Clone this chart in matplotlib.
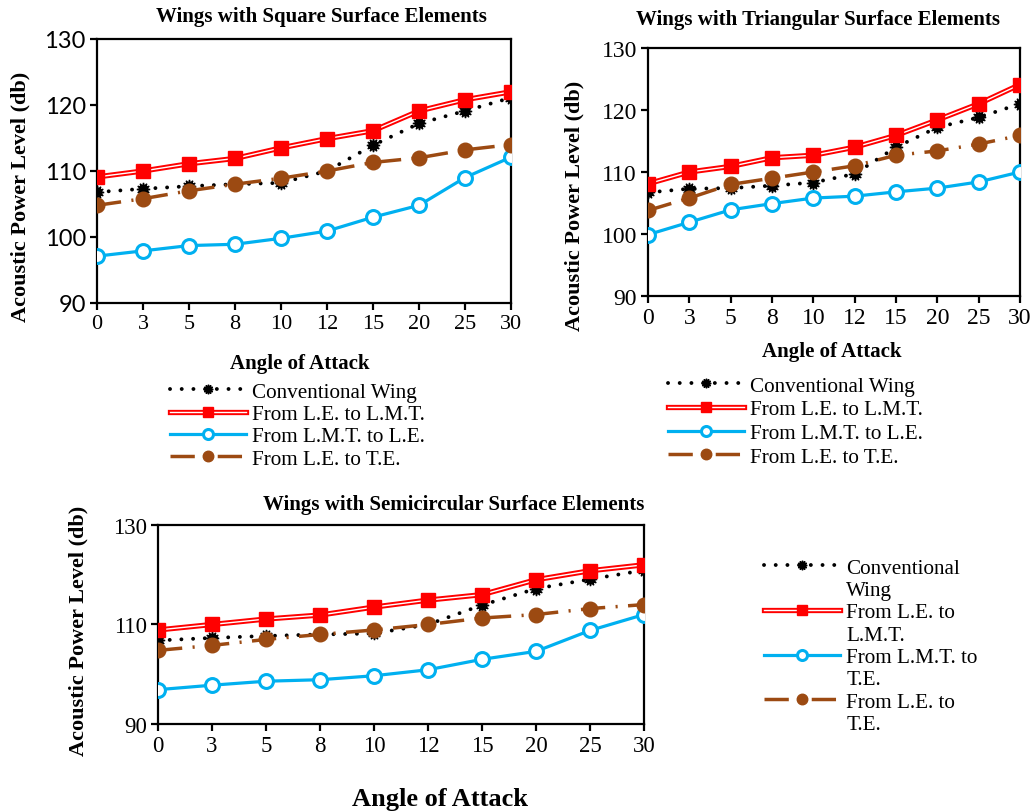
import matplotlib
matplotlib.use("Agg")
import matplotlib.pyplot as plt
import matplotlib.patheffects as pe
from matplotlib.lines import Line2D
from matplotlib.legend_handler import HandlerTuple

plt.rcParams['font.family'] = ['Liberation Serif', 'DejaVu Serif']

# angle of attack categories (evenly spaced like a category axis)
angles = ['0', '3', '5', '8', '10', '12', '15', '20', '25', '30']

# square surface elements
sq_conv = [106.8, 107.3, 107.7, 108.0, 108.2, 110.0, 113.9, 117.2, 119.1, 121.1]
sq_le_lmt = [109.1, 110.0, 111.1, 111.9, 113.5, 114.9, 116.1, 119.1, 120.8, 122.0]
sq_lmt_le = [97.1, 97.9, 98.7, 98.9, 99.8, 100.9, 103.0, 104.8, 109.0, 112.1]
sq_le_te = [104.8, 105.8, 107.0, 108.0, 108.9, 110.0, 111.3, 112.0, 113.2, 114.0]

# triangular surface elements
tr_conv = [106.7, 107.3, 107.4, 107.8, 108.3, 109.7, 114.0, 117.2, 118.8, 121.0]
tr_le_lmt = [108.1, 110.0, 110.9, 112.3, 112.7, 114.0, 115.9, 118.4, 121.0, 124.1]
tr_lmt_le = [99.9, 101.9, 103.9, 104.9, 105.8, 106.1, 106.8, 107.4, 108.4, 110.0]
tr_le_te = [103.8, 105.8, 108.0, 109.0, 110.0, 111.0, 112.7, 113.4, 114.5, 115.9]

# semicircular surface elements
sc_conv = [106.8, 107.3, 107.7, 108.0, 108.2, 110.0, 113.9, 117.2, 119.1, 120.9]
sc_le_lmt = [108.9, 110.0, 111.1, 111.9, 113.5, 114.9, 116.0, 119.0, 120.8, 122.0]
sc_lmt_te = [96.9, 97.8, 98.6, 98.9, 99.7, 100.9, 103.0, 104.6, 108.8, 112.0]
sc_le_te = [104.8, 105.8, 107.0, 108.0, 108.9, 110.0, 111.3, 112.0, 113.2, 114.0]

W, H = 1032, 812
CYAN = '#00B0F0'
BROWN = '#9C4A12'


def px_rect(x0, y0, x1, y1):
    return [x0 / W, 1 - y1 / H, (x1 - x0) / W, (y1 - y0) / H]


def fig_text(x, y, s, **kw):
    return fig.text(x / W, 1 - y / H, s, ha='center', va='center', **kw)


def draw_series(ax, conv, le_lmt, lmt_x, le_te, tick_fs):
    x = range(len(angles))
    h1, = ax.plot(x, conv, color='black', lw=2.8, linestyle=(0, (0.01, 3.0)),
                  dash_capstyle='round', marker=(12, 1, 0), ms=9.5,
                  markerfacecolor='black', markeredgecolor='black', zorder=3)
    l2, = ax.plot(x, le_lmt, color='white', lw=1.0, zorder=4,
                  path_effects=[pe.Stroke(linewidth=3.8, foreground='red'), pe.Normal()])
    m2, = ax.plot(x, le_lmt, linestyle='none', marker='s', ms=9.5,
                  color='red', zorder=5)
    h3, = ax.plot(x, lmt_x, color=CYAN, lw=2.3, marker='o', ms=10,
                  markerfacecolor='white', markeredgecolor=CYAN, mew=2.2, zorder=3)
    h4, = ax.plot(x, le_te, color=BROWN, lw=2.5, linestyle=(0, (7, 3, 0.6, 3)),
                  marker='o', ms=10.5, markerfacecolor=BROWN,
                  markeredgecolor=BROWN, zorder=3)
    ax.set_xlim(0, len(angles) - 1)
    ax.set_xticks(list(x))
    ax.set_xticklabels(angles)
    for s in ax.spines.values():
        s.set_linewidth(1.6)
    ax.tick_params(direction='out', length=5, width=1.6, labelsize=tick_fs, pad=3)
    return [h1, (l2, m2), h3, h4]


def add_legend(handles, labels, x, y, fs=15.2, spacing=0.12):
    fig.legend(handles, labels, loc='upper left',
               bbox_to_anchor=(x / W, 1 - y / H), frameon=False, fontsize=fs,
               handlelength=3.6, handletextpad=0.3, labelspacing=spacing,
               borderpad=0, borderaxespad=0, markerscale=0.72,
               handler_map={tuple: HandlerTuple(ndivide=1)})


fig = plt.figure(figsize=(W / 100, H / 100), dpi=100)
labels4 = ['Conventional Wing', 'From L.E. to L.M.T.',
           'From L.M.T. to L.E.', 'From L.E. to T.E.']

# square elements
ax1 = fig.add_axes(px_rect(97, 40, 511, 304))
hs = draw_series(ax1, sq_conv, sq_le_lmt, sq_lmt_le, sq_le_te, 16)
ax1.set_ylim(90, 130)
ax1.set_yticks([90, 100, 110, 120, 130])
for t in ax1.get_yticklabels():
    t.set_fontfamily('Lato')
    t.set_fontsize(17)
fig_text(20, 197, 'Acoustic Power Level (db)', rotation=90, fontsize=16, fontweight='bold')
fig_text(321, 17, 'Wings with Square Surface Elements', fontsize=15, fontweight='bold')
fig_text(300, 364, 'Angle of Attack', fontsize=15, fontweight='bold')
add_legend(hs, labels4, 170, 383)

# triangular elements
ax2 = fig.add_axes(px_rect(648, 49, 1020, 297))
hs = draw_series(ax2, tr_conv, tr_le_lmt, tr_lmt_le, tr_le_te, 17)
ax2.set_ylim(90, 130)
ax2.set_yticks([90, 100, 110, 120, 130])
fig_text(574, 206, 'Acoustic Power Level (db)', rotation=90, fontsize=16, fontweight='bold')
fig_text(818, 20, 'Wings with Triangular Surface Elements', fontsize=15, fontweight='bold')
fig_text(832, 352, 'Angle of Attack', fontsize=15, fontweight='bold')
add_legend(hs, labels4, 668, 377, spacing=0.18)

# semicircular elements
ax3 = fig.add_axes(px_rect(158, 526, 644, 725))
hs = draw_series(ax3, sc_conv, sc_le_lmt, sc_lmt_te, sc_le_te, 16.5)
ax3.set_ylim(90, 130)
ax3.set_yticks([90, 110, 130])
fig_text(78, 631, 'Acoustic Power Level (db)', rotation=90, fontsize=16, fontweight='bold')
fig_text(454, 505, 'Wings with Semicircular Surface Elements', fontsize=15, fontweight='bold')
fig_text(440, 800, 'Angle of Attack', fontsize=19, fontweight='bold')
blank = Line2D([], [], linestyle='none')
add_legend([hs[0], blank, hs[1], blank, hs[2], blank, hs[3], blank],
           ['Conventional', 'Wing', 'From L.E. to', 'L.M.T.',
            'From L.M.T. to', 'T.E.', 'From L.E. to', 'T.E.'], 764, 559)

fig.savefig('out.png', dpi=100)
